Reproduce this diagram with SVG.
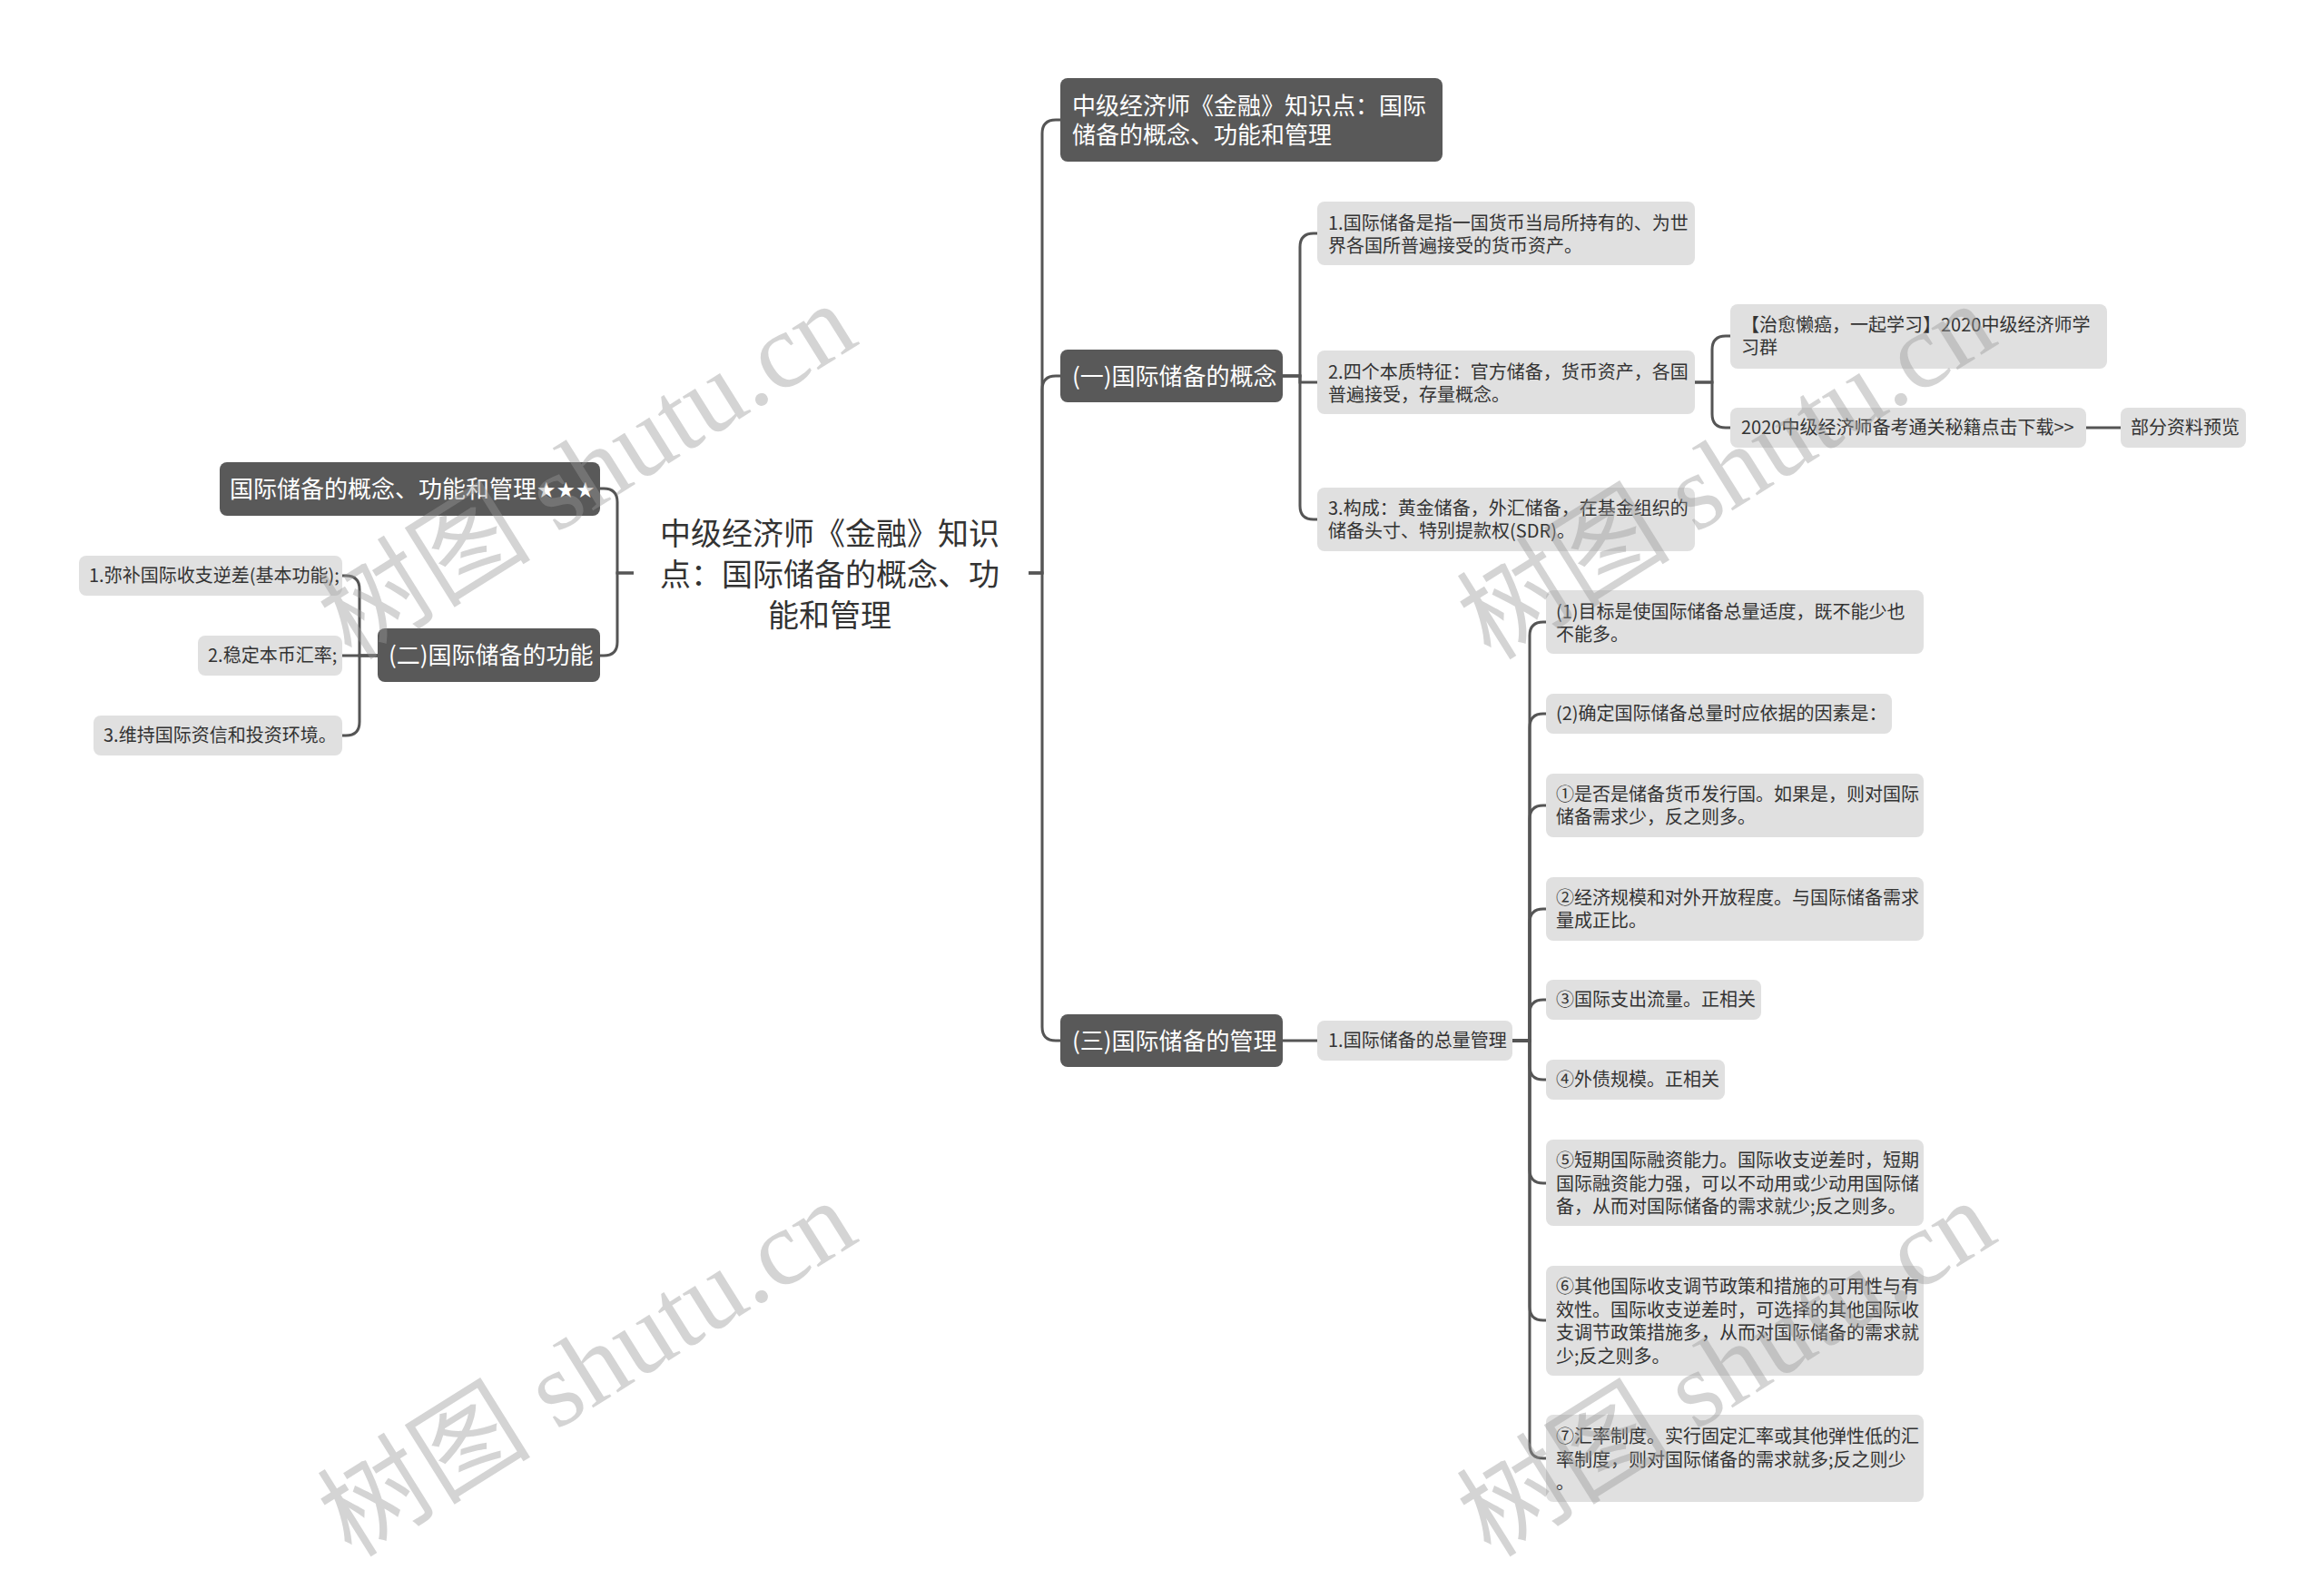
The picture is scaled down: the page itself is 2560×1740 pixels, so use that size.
<svg xmlns="http://www.w3.org/2000/svg" width="2560" height="1740" viewBox="0 0 2560 1740">
<style>
text{font-family:"Noto Sans CJK SC","Noto Sans",sans-serif}
.dk{fill:#595959}
.lt{fill:#e0e0e0}
.tw{fill:#ffffff;font-size:26px}
.tl{fill:#333333;font-size:20px}
.tc{fill:#333333;font-size:34px;text-anchor:middle}
.star{font-family:"DejaVu Sans",sans-serif;font-size:24px}
#connectors path{fill:none;stroke:#555555;stroke-width:3}
.wm{font-size:118px;fill:#999999;fill-opacity:0.42;text-anchor:middle;font-family:"Liberation Serif","Noto Sans CJK SC",serif}
</style>
<rect width="2560" height="1740" fill="#ffffff"/>
<g id="connectors">
<path d="M698,631 H680 V553 Q680,538 665,538 H661"/>
<path d="M698,631 H680 V707 Q680,722 665,722 H661"/>
<path d="M416,722 H396 V649 Q396,634 381,634 H377"/>
<path d="M416,722 H377"/>
<path d="M416,722 H396 V795 Q396,810 381,810 H377"/>
<path d="M1133,631 H1148 V147 Q1148,132 1163,132 H1168"/>
<path d="M1133,631 H1148 V429 Q1148,414 1163,414 H1168"/>
<path d="M1133,631 H1148 V1131 Q1148,1146 1163,1146 H1168"/>
<path d="M1413,414 H1432 V272 Q1432,257 1447,257 H1451"/>
<path d="M1413,414 H1432 V421 H1451"/>
<path d="M1413,414 H1432 V557 Q1432,572 1447,572 H1451"/>
<path d="M1867,421 H1886 V385 Q1886,370 1901,370 H1906"/>
<path d="M1867,421 H1886 V456 Q1886,471 1901,471 H1906"/>
<path d="M2298,471 H2336"/>
<path d="M1413,1146 H1451"/>
<path d="M1666,1146 H1685 V700 Q1685,685 1700,685 H1703"/>
<path d="M1666,1146 H1685 V801 Q1685,786 1700,786 H1703"/>
<path d="M1666,1146 H1685 V902 Q1685,887 1700,887 H1703"/>
<path d="M1666,1146 H1685 V1016 Q1685,1001 1700,1001 H1703"/>
<path d="M1666,1146 H1685 V1116 Q1685,1101 1700,1101 H1703"/>
<path d="M1666,1146 H1685 V1174 Q1685,1189 1700,1189 H1703"/>
<path d="M1666,1146 H1685 V1288 Q1685,1303 1700,1303 H1703"/>
<path d="M1666,1146 H1685 V1439 Q1685,1454 1700,1454 H1703"/>
<path d="M1666,1146 H1685 V1591 Q1685,1606 1700,1606 H1703"/>
</g>
<g id="root">
<text class="tc" x="914" y="600">中级经济师《金融》知识</text>
<text class="tc" x="914" y="645">点：国际储备的概念、功</text>
<text class="tc" x="914" y="690">能和管理</text>
</g>
<g id="n-left-title">
<rect class="dk" x="242" y="509" width="419" height="59" rx="8"/>
<text class="tw" x="253" y="548">国际储备的概念、功能和管理<tspan class="star">★★★</tspan></text>
</g>
<g id="n-function">
<rect class="dk" x="416" y="692" width="245" height="59" rx="8"/>
<text class="tw" x="428" y="731">(二)国际储备的功能</text>
</g>
<g id="n-f1">
<rect class="lt" x="87" y="612" width="290" height="44" rx="8"/>
<text class="tl" x="98" y="641">1.弥补国际收支逆差(基本功能);</text>
</g>
<g id="n-f2">
<rect class="lt" x="218" y="700" width="159" height="44" rx="8"/>
<text class="tl" x="229" y="729">2.稳定本币汇率;</text>
</g>
<g id="n-f3">
<rect class="lt" x="103" y="788" width="274" height="44" rx="8"/>
<text class="tl" x="114" y="817">3.维持国际资信和投资环境。</text>
</g>
<g id="n-right-title">
<rect class="dk" x="1168" y="86" width="421" height="92" rx="8"/>
<text class="tw" x="1181" y="126">中级经济师《金融》知识点：国际</text>
<text class="tw" x="1181" y="158">储备的概念、功能和管理</text>
</g>
<g id="n-concept">
<rect class="dk" x="1168" y="385" width="245" height="58" rx="8"/>
<text class="tw" x="1181" y="423.5">(一)国际储备的概念</text>
</g>
<g id="n-manage">
<rect class="dk" x="1168" y="1117" width="245" height="58" rx="8"/>
<text class="tw" x="1181" y="1155.5">(三)国际储备的管理</text>
</g>
<g id="n-c1">
<rect class="lt" x="1451" y="222" width="416" height="70" rx="8"/>
<text class="tl" x="1463" y="253">1.国际储备是指一国货币当局所持有的、为世</text>
<text class="tl" x="1463" y="278">界各国所普遍接受的货币资产。</text>
</g>
<g id="n-c2">
<rect class="lt" x="1451" y="386" width="416" height="70" rx="8"/>
<text class="tl" x="1463" y="417">2.四个本质特征：官方储备，货币资产，各国</text>
<text class="tl" x="1463" y="442">普遍接受，存量概念。</text>
</g>
<g id="n-c3">
<rect class="lt" x="1451" y="537" width="416" height="70" rx="8"/>
<text class="tl" x="1463" y="567">3.构成：黄金储备，外汇储备，在基金组织的</text>
<text class="tl" x="1463" y="592">储备头寸、特别提款权(SDR)。</text>
</g>
<g id="n-g1">
<rect class="lt" x="1906" y="335" width="415" height="71" rx="8"/>
<text class="tl" x="1918" y="365">【治愈懒癌，一起学习】2020中级经济师学</text>
<text class="tl" x="1918" y="390">习群</text>
</g>
<g id="n-g2">
<rect class="lt" x="1906" y="449" width="392" height="44" rx="8"/>
<text class="tl" x="1918" y="478">2020中级经济师备考通关秘籍点击下载&gt;&gt;</text>
</g>
<g id="n-g3">
<rect class="lt" x="2336" y="449" width="138" height="44" rx="8"/>
<text class="tl" x="2347" y="478">部分资料预览</text>
</g>
<g id="n-m1">
<rect class="lt" x="1451" y="1124" width="215" height="44" rx="8"/>
<text class="tl" x="1463" y="1153">1.国际储备的总量管理</text>
</g>
<g id="n-m1-1">
<rect class="lt" x="1703" y="650" width="416" height="70" rx="8"/>
<text class="tl" x="1714" y="681">(1)目标是使国际储备总量适度，既不能少也</text>
<text class="tl" x="1714" y="706">不能多。</text>
</g>
<g id="n-m1-2">
<rect class="lt" x="1703" y="764" width="381" height="44" rx="8"/>
<text class="tl" x="1714" y="793">(2)确定国际储备总量时应依据的因素是：</text>
</g>
<g id="n-m1-3">
<rect class="lt" x="1703" y="852" width="416" height="70" rx="8"/>
<text class="tl" x="1714" y="882">①是否是储备货币发行国。如果是，则对国际</text>
<text class="tl" x="1714" y="907">储备需求少，反之则多。</text>
</g>
<g id="n-m1-4">
<rect class="lt" x="1703" y="966" width="416" height="70" rx="8"/>
<text class="tl" x="1714" y="996">②经济规模和对外开放程度。与国际储备需求</text>
<text class="tl" x="1714" y="1021">量成正比。</text>
</g>
<g id="n-m1-5">
<rect class="lt" x="1703" y="1079" width="237" height="44" rx="8"/>
<text class="tl" x="1714" y="1108">③国际支出流量。正相关</text>
</g>
<g id="n-m1-6">
<rect class="lt" x="1703" y="1167" width="197" height="44" rx="8"/>
<text class="tl" x="1714" y="1196">④外债规模。正相关</text>
</g>
<g id="n-m1-7">
<rect class="lt" x="1703" y="1255" width="416" height="95" rx="8"/>
<text class="tl" x="1714" y="1285">⑤短期国际融资能力。国际收支逆差时，短期</text>
<text class="tl" x="1714" y="1310.5">国际融资能力强，可以不动用或少动用国际储</text>
<text class="tl" x="1714" y="1336">备，从而对国际储备的需求就少;反之则多。</text>
</g>
<g id="n-m1-8">
<rect class="lt" x="1703" y="1394" width="416" height="121" rx="8"/>
<text class="tl" x="1714" y="1424">⑥其他国际收支调节政策和措施的可用性与有</text>
<text class="tl" x="1714" y="1449.5">效性。国际收支逆差时，可选择的其他国际收</text>
<text class="tl" x="1714" y="1475">支调节政策措施多，从而对国际储备的需求就</text>
<text class="tl" x="1714" y="1500.5">少;反之则多。</text>
</g>
<g id="n-m1-9">
<rect class="lt" x="1703" y="1558" width="416" height="96" rx="8"/>
<text class="tl" x="1714" y="1589">⑦汇率制度。实行固定汇率或其他弹性低的汇</text>
<text class="tl" x="1714" y="1614.5">率制度，则对国际储备的需求就多;反之则少</text>
<text class="tl" x="1714" y="1640">。</text>
</g>
<g id="watermarks">
<text class="wm" x="668" y="553" transform="rotate(-32 668 553)">树图 shutu.cn</text>
<text class="wm" x="668" y="1541" transform="rotate(-32 668 1541)">树图 shutu.cn</text>
<text class="wm" x="1923" y="553" transform="rotate(-32 1923 553)">树图 shutu.cn</text>
<text class="wm" x="1923" y="1541" transform="rotate(-32 1923 1541)">树图 shutu.cn</text>
</g>
</svg>
